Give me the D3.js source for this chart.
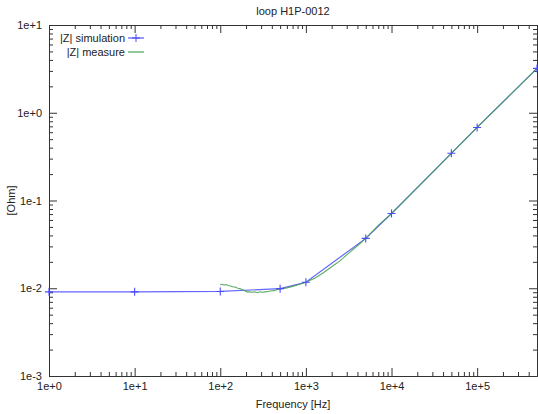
<!DOCTYPE html>
<html>
<head>
<meta charset="utf-8">
<script src="https://cdn.jsdelivr.net/npm/d3@7"></script>
<style>
  body { margin: 0; background: #fff; }
  svg text { font-family: "Liberation Sans", Arial, sans-serif; font-size: 11px; fill: #222; }
  .axis path, .axis line { stroke: #333; }
</style>
</head>
<body>
<svg id="chart" width="538" height="414"></svg>
<script>
// simulated impedance, markers at each point
var simFreq = [1, 10, 100, 500, 1000, 5000, 1e4, 5e4, 1e5, 5e5];
var simZ    = [0.0091, 0.0091, 0.0092, 0.0099, 0.0117, 0.037, 0.071, 0.345, 0.68, 3.2];

// measured impedance
var measFreq = [100, 105, 110, 118, 125, 132, 140, 150, 160, 170, 180, 192, 205, 220,
                235, 250, 270, 290, 310, 335, 360, 390, 420, 460, 500, 600, 700, 800,
                1000, 1300, 1600, 2000, 2500, 3000, 4000, 5000, 7000, 1e4, 2e4, 5e4,
                1e5, 2e5, 5e5];
var measZ    = [0.0110, 0.0111, 0.0109, 0.0110, 0.0107, 0.0106, 0.0104, 0.0103, 0.0100,
                0.0099, 0.0096, 0.0094, 0.0091, 0.0091, 0.0090, 0.0091, 0.0089, 0.0091,
                0.0090, 0.0091, 0.0092, 0.0093, 0.0094, 0.0096, 0.0098, 0.0101, 0.0105,
                0.0109, 0.0117, 0.0132, 0.0150, 0.0176, 0.0205, 0.0240, 0.0305, 0.0370,
                0.052, 0.071, 0.140, 0.345, 0.68, 1.33, 3.2];

var xDomain = [1, 5e5];
var yDomain = [1e-3, 1e1];
var title = "loop H1P-0012";
var xLabel = "Frequency [Hz]";
var yLabel = "[Ohm]";
var seriesNames = ["|Z| simulation", "|Z| measure"];

var svg = d3.select("#chart");
var pl = 49, pr = 537, pt = 25, pb = 376;

var x = d3.scaleLog().domain(xDomain).range([pl, pr]);
var y = d3.scaleLog().domain(yDomain).range([pb, pt]);

function isMajor(d) {
    return Math.abs(Math.log10(d) - Math.round(Math.log10(d))) < 1e-9;
}
var fmt = function(d) {
    var e = Math.round(Math.log10(d));
    return "1e" + (e >= 0 ? "+" : "") + e;
};

var xt = x.ticks(), yt = y.ticks();
var xMaj = xt.filter(isMajor), xMin = xt.filter(function(d) { return !isMajor(d); });
var yMaj = yt.filter(isMajor), yMin = yt.filter(function(d) { return !isMajor(d); });

// bottom + top
svg.append("g").attr("class", "axis").attr("transform", "translate(0," + pb + ")")
    .call(d3.axisBottom(x).tickValues(xMaj).tickFormat(fmt).tickSize(-8).tickSizeOuter(0).tickPadding(6));
svg.append("g").attr("class", "axis").attr("transform", "translate(0," + pb + ")")
    .call(d3.axisBottom(x).tickValues(xMin).tickFormat("").tickSize(-4).tickSizeOuter(0));
svg.append("g").attr("class", "axis").attr("transform", "translate(0," + pt + ")")
    .call(d3.axisTop(x).tickValues(xMaj).tickFormat("").tickSize(-8).tickSizeOuter(0));
svg.append("g").attr("class", "axis").attr("transform", "translate(0," + pt + ")")
    .call(d3.axisTop(x).tickValues(xMin).tickFormat("").tickSize(-4).tickSizeOuter(0));

// left + right
svg.append("g").attr("class", "axis").attr("transform", "translate(" + pl + ",0)")
    .call(d3.axisLeft(y).tickValues(yMaj).tickFormat(fmt).tickSize(-8).tickSizeOuter(0).tickPadding(7));
svg.append("g").attr("class", "axis").attr("transform", "translate(" + pl + ",0)")
    .call(d3.axisLeft(y).tickValues(yMin).tickFormat("").tickSize(-4).tickSizeOuter(0));
svg.append("g").attr("class", "axis").attr("transform", "translate(" + pr + ",0)")
    .call(d3.axisRight(y).tickValues(yMaj).tickFormat("").tickSize(-8).tickSizeOuter(0));
svg.append("g").attr("class", "axis").attr("transform", "translate(" + pr + ",0)")
    .call(d3.axisRight(y).tickValues(yMin).tickFormat("").tickSize(-4).tickSizeOuter(0));

svg.selectAll(".axis text").style("font-family", "Liberation Sans, Arial, sans-serif")
    .style("font-size", "11px").attr("fill", "#222");

var line = d3.line()
    .x(function(d) { return x(d[0]); })
    .y(function(d) { return y(d[1]); });

var blue = "#4a4aff", green = "#3d9e4a";

var simPts = simFreq.map(function(f, i) { return [f, simZ[i]]; });
svg.append("path")
    .datum(simPts)
    .attr("d", line).attr("fill", "none").attr("stroke", blue)
    .attr("stroke-opacity", 0.85).attr("stroke-width", 1.2);

// measured curve drawn over the simulation line
svg.append("path")
    .datum(measFreq.map(function(f, i) { return [f, measZ[i]]; }))
    .attr("d", line).attr("fill", "none").attr("stroke", green)
    .attr("stroke-opacity", 0.85).attr("stroke-width", 1.1);

svg.selectAll(".mark").data(simPts).enter().append("path")
    .attr("class", "mark")
    .attr("transform", function(d) { return "translate(" + x(d[0]) + "," + y(d[1]) + ")"; })
    .attr("d", "M-4,0H4M0,-4V4")
    .attr("stroke", blue).attr("stroke-width", 1.1).attr("fill", "none");

// title and axis labels
svg.append("text").attr("x", (pl + pr) / 2).attr("y", 15)
    .attr("text-anchor", "middle").text(title);
svg.append("text").attr("x", (pl + pr) / 2).attr("y", 408)
    .attr("text-anchor", "middle").text(xLabel);
svg.append("text").attr("transform", "translate(15," + ((pt + pb) / 2) + ") rotate(-90)")
    .attr("text-anchor", "middle").text(yLabel);

// legend
var legend = svg.append("g");
seriesNames.forEach(function(name, i) {
    var ly = 38 + i * 14;
    legend.append("text").attr("x", 125).attr("y", ly + 4)
        .attr("text-anchor", "end").text(name);
    legend.append("line").attr("x1", 128).attr("x2", 144).attr("y1", ly).attr("y2", ly)
        .attr("stroke", i == 0 ? blue : green).attr("stroke-width", 1.1);
    if (i == 0)
        legend.append("path").attr("transform", "translate(136," + ly + ")")
            .attr("d", "M-4,0H4M0,-4V4").attr("stroke", blue).attr("fill", "none");
});
</script>
</body>
</html>
